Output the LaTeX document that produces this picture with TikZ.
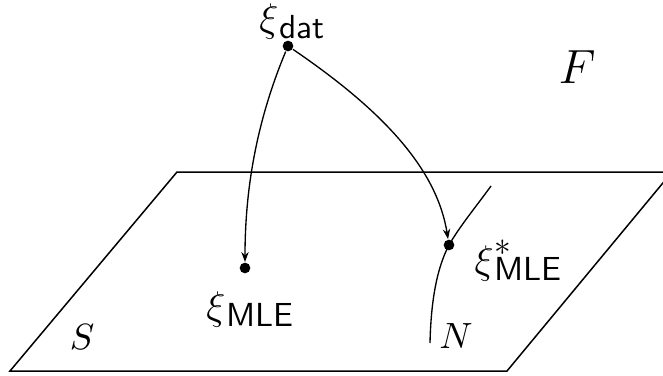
\documentclass[tikz,border=0pt]{standalone}
\usepackage{amsmath}
\usepackage{tikz}
\usetikzlibrary{arrows.meta, positioning, calc}
\newcommand{\xilab}[2][]{\large$\xi$\kern0.3pt\rlap{\raisebox{5.5pt}{\normalsize$#1$}}\raisebox{-2pt}{\normalsize\sffamily #2}}

\begin{document}
\begin{tikzpicture}[x=0.3pt,y=-0.3pt,
		pt/.style={circle,fill=black,inner sep=0pt,minimum size=3.2pt},
		lab/.style={inner sep=0pt},
		letter/.style={font=\fontsize{11}{13}\selectfont},
		flow/.style={-{Stealth[length=3pt,width=2.2pt]},line width=0.4pt}]
				\useasboundingbox (0,0) rectangle (663,376);
				% model plane
				\draw[line width=0.45pt] (10,371) -- (507,371) -- (672,172) -- (177,172) -- cycle;
				\node[letter] (S) at (82,337) {$S$};
				\node (F) at (577,67) {\Large$F$};
				% points
				\node[pt] (dat) at (288,46) {};
				\node[pt] (mle) at (245,268) {};
				\node[pt] (mles) at (449,245) {};
				\node[lab,anchor=north] (datl) at (292,3) {\xilab{dat}};
				\node[lab,anchor=north] (mlel) at (250,291) {\xilab{MLE}};
				\node[lab,anchor=north west] (mlesl) at (474,239) {\xilab[*]{MLE}};
				% submodel curve
				\coordinate (Nb) at (430,343);
				\coordinate (Nt) at (491,186);
				\draw[line width=0.4pt] (Nb) .. controls (431,300) and (437,268) .. (mles.center) .. controls (460,226) and (475,208) .. (Nt);
				\node[letter] (N) at (456,336) {$N$};
				% estimates
				\draw[flow] (dat) .. controls (258,118) and (245,185) .. (mle);
				\draw[flow] (dat) .. controls (385,112) and (437,170) .. (mles);
			\end{tikzpicture}
\end{document}
